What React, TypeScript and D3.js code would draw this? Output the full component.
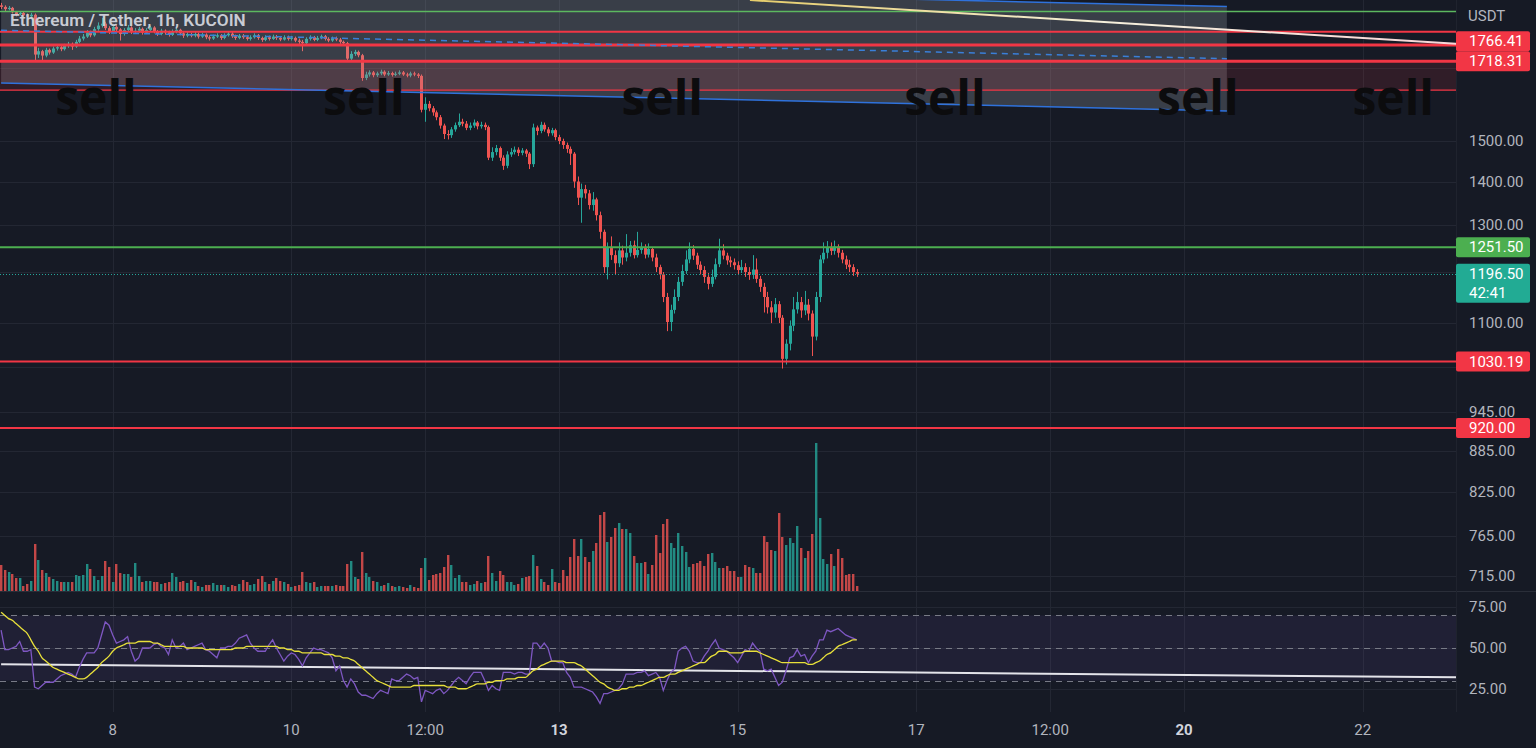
import React from "react";
import * as d3 from "d3";

// ---------------- data ----------------
const firstCandleUTC = Date.UTC(2022, 5, 6, 18); // ETH/USDT 1h, first visible candle
const firstOpen = 1890;

const closes = [
  1885, 1878, 1882, 1868, 1862, 1866, 1858, 1855, 1860,
  1738,
  1748, 1735, 1752, 1744,
  1756, 1760, 1754, 1764, 1770, 1762, 1776, 1786, 1792,
  1805, 1796, 1815, 1826, 1832, 1818, 1808, 1822, 1814, 1800, 1812, 1820, 1806,
  1810, 1816, 1804, 1812, 1820, 1808, 1800, 1810, 1805, 1797, 1808, 1813, 1802, 1795, 1800,
  1795, 1800, 1792, 1798, 1790, 1786, 1792, 1796, 1788, 1796, 1801, 1793, 1788, 1795, 1790,
  1785, 1790, 1796, 1788, 1782, 1790, 1785, 1792, 1788, 1783, 1790, 1785, 1788, 1780, 1776,
  1772,
  1785, 1790, 1782, 1788, 1793, 1785, 1780, 1787, 1783, 1776, 1772,
  1726,
  1740, 1746, 1736,
  1670,
  1680, 1686, 1678, 1683, 1688, 1680, 1684, 1679, 1682, 1686, 1680, 1677, 1683, 1680, 1676,
  1582,
  1598, 1586, 1575,
  1562, 1540, 1518,
  1515, 1530, 1541, 1550,
  1545, 1534, 1540, 1548, 1538, 1542, 1536,
  1458,
  1472, 1482, 1458, 1438, 1466,
  1472, 1478, 1470, 1476, 1468,
  1442,
  1535,
  1526, 1542, 1530, 1520, 1528,
  1510, 1500, 1490, 1480, 1468,
  1400, 1362, 1382,
  1372, 1345, 1358,
  1322, 1285,
  1210,
  1250, 1235, 1218, 1245, 1230,
  1240, 1256, 1235, 1246, 1250, 1236, 1248,
  1230, 1210, 1195,
  1150, 1102,
  1125, 1150, 1180,
  1202, 1226, 1248, 1234, 1215,
  1204, 1190, 1176, 1190,
  1216, 1245, 1234, 1224,
  1220, 1214, 1204, 1210, 1200, 1194, 1205, 1186,
  1170, 1150, 1130,
  1120, 1136, 1110,
  1035,
  1062, 1095, 1126,
  1140, 1124, 1135, 1118,
  1075,
  1150,
  1226,
  1240, 1252, 1244, 1253, 1240,
  1226, 1215, 1210, 1200, 1196.5,
];

const highs = [
  1898, 1890, 1888, 1885, 1872, 1872, 1870, 1864, 1866,
  1864,
  1758, 1752, 1758, 1756,
  1762, 1766, 1764, 1770, 1776, 1774, 1782, 1794, 1800,
  1812, 1810, 1822, 1836, 1850, 1838, 1824, 1830, 1828, 1818, 1818, 1828, 1824,
  1818, 1822, 1820, 1818, 1826, 1824, 1812, 1816, 1814, 1810, 1814, 1820, 1816, 1806, 1806,
  1804, 1806, 1804, 1804, 1802, 1796, 1798, 1802, 1800, 1802, 1808, 1806, 1798, 1800, 1800,
  1795, 1796, 1802, 1800, 1792, 1796, 1795, 1798, 1797, 1794, 1796, 1795, 1794, 1792, 1786,
  1782,
  1790, 1796, 1794, 1794, 1798, 1797, 1790, 1792, 1792, 1788, 1780,
  1776,
  1748, 1752, 1750,
  1740,
  1688, 1692, 1690, 1688, 1694, 1692, 1690, 1688, 1688, 1692, 1690, 1685, 1688, 1688, 1684,
  1680,
  1616, 1606, 1592,
  1580, 1568, 1545,
  1528, 1536, 1548, 1572,
  1558, 1552, 1548, 1556, 1552, 1550, 1548,
  1540,
  1484, 1490, 1486, 1464, 1474,
  1482, 1486, 1484, 1482, 1480,
  1472,
  1545,
  1540, 1550, 1548, 1536, 1534,
  1532, 1516, 1506, 1496, 1486,
  1472, 1412, 1395,
  1392, 1380, 1375,
  1362, 1330,
  1290,
  1262, 1275, 1245, 1262, 1255,
  1280, 1265, 1266, 1285, 1262, 1258, 1260,
  1252, 1238, 1215,
  1200, 1158,
  1135, 1165, 1190,
  1215, 1245, 1262, 1256, 1240,
  1222, 1212, 1198, 1205,
  1228, 1270, 1258, 1240,
  1232, 1228, 1222, 1225, 1218, 1210, 1235, 1228,
  1192, 1178, 1160,
  1142, 1148, 1142,
  1115,
  1070, 1105, 1150,
  1160, 1150, 1162, 1146,
  1124,
  1160,
  1235,
  1262, 1265, 1262, 1266, 1258,
  1246, 1234, 1225, 1216, 1206,
];

const lows = [
  1878, 1872, 1874, 1864, 1855, 1858, 1852, 1848, 1850,
  1722,
  1728, 1722, 1730, 1738,
  1740, 1750, 1748, 1750, 1758, 1752, 1758, 1772, 1780,
  1788, 1790, 1792, 1810, 1820, 1812, 1800, 1804, 1808, 1780, 1795, 1806, 1800,
  1800, 1804, 1798, 1800, 1806, 1802, 1794, 1796, 1798, 1792, 1794, 1802, 1796, 1788, 1790,
  1790, 1790, 1786, 1788, 1784, 1780, 1782, 1788, 1782, 1784, 1792, 1788, 1782, 1784, 1785,
  1780, 1780, 1786, 1782, 1776, 1778, 1780, 1782, 1782, 1778, 1780, 1780, 1780, 1775, 1770,
  1748,
  1768, 1780, 1778, 1778, 1784, 1780, 1775, 1776, 1778, 1770, 1764,
  1720,
  1720, 1734, 1730,
  1662,
  1664, 1674, 1672, 1673, 1678, 1675, 1676, 1674, 1675, 1678, 1676, 1672, 1672, 1675, 1670,
  1575,
  1550, 1578, 1566,
  1554, 1532, 1505,
  1504, 1508, 1524, 1536,
  1538, 1528, 1528, 1534, 1530, 1532, 1528,
  1452,
  1450, 1464, 1450, 1428, 1432,
  1460, 1466, 1462, 1464, 1460,
  1430,
  1435,
  1515, 1520, 1524, 1512, 1514,
  1502, 1492, 1480, 1470, 1440,
  1385, 1345, 1305,
  1360, 1335, 1332,
  1310, 1270,
  1198,
  1185, 1225, 1195, 1210, 1215,
  1222, 1232, 1228, 1230, 1238, 1228, 1230,
  1222, 1200, 1185,
  1140, 1085,
  1085, 1118, 1142,
  1172, 1196, 1218, 1225, 1206,
  1195, 1178, 1165, 1170,
  1185, 1210, 1226, 1215,
  1210, 1205, 1195, 1198, 1190, 1184, 1186, 1178,
  1160, 1120, 1118,
  1100, 1110, 1100,
  1018,
  1025, 1050, 1085,
  1118, 1110, 1115, 1105,
  1040,
  1068,
  1140,
  1218, 1228, 1235, 1236, 1230,
  1218, 1206, 1200, 1192, 1190,
];

// volume (thousand ETH)
const volumes = [
  26, 21, 19, 17, 13, 13, 5, 7, 10, 47,
  31, 21, 18, 14, 12, 10, 9, 9, 9, 9,
  16, 15, 16, 27, 22, 15, 11, 15, 30, 24,
  9, 27, 18, 17, 17, 14, 28, 15, 9, 10,
  10, 9, 9, 7, 8, 9, 18, 14, 9, 10,
  8, 11, 9, 5, 4, 6, 6, 8, 6, 6,
  6, 4, 6, 5, 7, 11, 9, 6, 7, 12,
  15, 9, 7, 10, 13, 10, 9, 7, 4, 5,
  6, 19, 9, 8, 9, 4, 5, 5, 5, 5,
  6, 5, 5, 27, 30, 14, 12, 39, 18, 14,
  10, 9, 5, 6, 8, 5, 4, 5, 4, 3,
  6, 4, 3, 23, 33, 11, 16, 17, 18, 24,
  36,
  26, 13, 16, 9, 9, 6, 7, 10, 8, 9,
  35, 18, 10, 20, 16, 9, 9, 6, 7, 13,
  14, 15, 36, 25, 12, 9, 6, 22, 9, 8,
  21, 15, 34, 52, 35, 52, 34, 29, 40, 48,
  76, 79, 49, 54, 63, 68, 62, 62, 58, 35,
  28, 28, 29, 17, 26, 56, 38, 67, 72, 48,
  43, 58, 45, 39, 24, 27, 28, 30, 25, 37,
  38, 29, 23, 23, 25, 20, 20, 14, 14, 26,
  24, 23, 18, 18, 55, 49, 41, 40, 78, 54,
  46, 53, 48, 65, 43, 33, 40, 57, 148, 73,
  32, 27, 37, 25, 42, 33, 16, 17, 17, 5,
];

const rsiValues = [
  61, 49, 49, 50, 51, 54, 48, 48, 49, 26,
  25, 27, 29, 29, 29, 31, 33, 34, 35, 34,
  32, 38, 43, 47, 47, 47, 50, 58, 66, 64,
  58, 53, 54, 55, 57, 48, 42, 44, 50, 50,
  50, 52, 53, 51, 50, 46, 55, 50, 51, 53,
  49, 50, 51, 52, 53, 49, 48, 46, 44, 50,
  50, 51, 51, 53, 56, 57, 58, 53, 50, 48,
  48, 48, 52, 55, 50, 46, 42, 45, 47, 46,
  43, 39, 44, 47, 50, 49, 49, 48, 47, 44,
  36, 39, 30, 26, 31, 28, 23, 21, 21, 20,
  19, 22, 24, 23, 22, 31, 30, 30, 32, 34,
  33, 31, 32, 17, 24, 23, 22, 24, 25, 22,
  24, 27, 30, 32, 30, 28, 32, 35, 35, 35,
  30, 24, 27, 25, 24, 35, 35, 35, 34, 35,
  35, 34, 34, 53, 53, 50, 53, 50, 42, 42,
  41, 41, 35, 32, 26, 26, 26, 25, 24, 23,
  20, 16, 22, 22, 23, 24, 25, 28, 34, 34,
  34, 35, 35, 36, 33, 34, 35, 32, 24, 30,
  35, 37, 48, 50, 51, 48, 42, 41, 41, 45,
  48, 52, 55, 50, 49, 48, 46, 44, 41, 45,
  49, 48, 53, 50, 48, 37, 36, 37, 32, 27,
  29, 36, 44, 45, 49, 45, 46, 41, 45, 48,
  55, 55, 61, 60, 61, 62, 60, 58, 57, 56,
  55,
];

const rsiMaValues = [
  72, 70, 68, 67, 65, 63, 61, 59, 55, 51,
  48, 44, 42, 40, 38, 37, 36, 35, 34, 33,
  32, 31, 31, 32, 34, 36, 38, 41, 43, 45,
  48, 50, 51, 52, 53, 53, 53, 54, 54, 54,
  54, 53, 53, 52, 51, 51, 51, 51, 51, 51,
  50, 50, 50, 50, 50, 49, 49, 49, 49, 49,
  49, 49, 49, 50, 50, 50, 51, 51, 51, 51,
  51, 51, 51, 51, 51, 50, 50, 49, 49, 48,
  48, 47, 47, 47, 47, 47, 47, 46, 46, 46,
  45, 45, 44, 44, 43, 42, 40, 38, 36, 34,
  32, 30, 29, 28, 27, 26, 26, 26, 26, 26,
  26, 27, 27, 27, 27, 27, 27, 27, 27, 27,
  26, 26, 26, 25, 25, 25, 26, 27, 28, 28,
  28, 29, 29, 30, 30, 30, 31, 31, 31, 32,
  32, 32, 34, 36, 37, 39, 40, 41, 42, 42,
  42, 42, 41, 41, 41, 40, 39, 37, 35, 33,
  31, 29, 28, 26, 25, 24, 24, 25, 25, 26,
  26, 27, 27, 28, 29, 30, 31, 32, 32, 33,
  34, 34, 35, 36, 37, 38, 39, 40, 41, 41,
  43, 45, 46, 48, 48, 48, 47, 47, 47, 47,
  48, 48, 48, 48, 47, 46, 45, 44, 43, 42,
  41, 41, 41, 41, 41, 41, 41, 40, 40, 41,
  42, 44, 46, 47, 49, 51, 52, 53, 54, 55,
  55,
];

const timeTickISO = [
  "2022-06-08T00:00Z", "2022-06-10T00:00Z", "2022-06-11T12:00Z", "2022-06-13T00:00Z",
  "2022-06-15T00:00Z", "2022-06-17T00:00Z", "2022-06-18T12:00Z", "2022-06-20T00:00Z",
  "2022-06-22T00:00Z",
];
const timeTickLabels = ["8", "10", "12:00", "13", "15", "17", "12:00", "20", "22"];
const timeTickBold = [false, false, false, true, false, false, false, true, false];

const priceTicks = [1700, 1500, 1400, 1300, 1200, 1100, 1020, 945, 885, 825, 765, 715];
const rsiTicks = [75, 50, 25];
const rsiGuides = [70, 50, 30];

const levelValues = [1766.41, 1718.31, 1251.5, 1196.5, 1030.19, 920.0];
const levelKinds = ["red", "red", "green", "last", "red", "red"];
const countdownText = "42:41";

// drawings (hour offset from first candle, price)
const topGreenLevel = 1870;
const thinRedLevels = [1807, 1636];
const thickRedLevels = [1766.41, 1718.31];
const redZoneBounds = [1718.31, 1636];
const channelHours = [0, 329.5];
const channelUpperPrices = [1981, 1886];
const channelLowerPrices = [1656, 1579];
const trendHours = [201.3, 391.1];
const trendPrices = [1907, 1770];
const rsiTrendHours = [0, 391.1];
const rsiTrendValues = [40, 32];
const sellHours = [25.5, 97.5, 177.7, 253.7, 321.7, 374.2];
const sellPrice = 1568;

// ---------------- layout ----------------
const W = 1536;
const H = 748;
const PANE_R = 1456;
const MAIN_B = 591;
const RSI_T = 592;
const RSI_B = 712;
const VISIBLE_HOURS = 391.09;
const BG = "#161a25";
const GRID = "#232733";
const UP = "#26a69a";
const DOWN = "#ef5350";
const RED = "#f23645";
const GREEN = "#4caf50";
const AXIS_TEXT = "#b2b5be";
const FONT = "Roboto, 'Liberation Sans', sans-serif";

export default function App() {
  const HOUR = 3600e3;
  const x = d3.scaleLinear().domain([0, VISIBLE_HOURS]).range([1.1, PANE_R]);
  const xt = d3
    .scaleUtc()
    .domain([new Date(firstCandleUTC), new Date(firstCandleUTC + VISIBLE_HOURS * HOUR)])
    .range([1.1, PANE_R]);
  const y = d3.scaleLog().domain([1907.3, 698.1]).range([0, 590]);
  const yv = d3.scaleLinear().domain([0, 148]).range([MAIN_B, 443]);
  const yr = d3.scaleLinear().domain([25, 75]).range([688.75, 607.25]);

  const candles = closes.map((c, i) => {
    const o = i === 0 ? firstOpen : closes[i - 1];
    const h = Math.max(highs[i], o, c);
    const l = Math.min(lows[i], o, c);
    return { i, o, h, l, c, up: c >= o };
  });

  const tickX = timeTickISO.map((s) => xt(new Date(s)));

  const channelPoly = [
    [x(channelHours[0]), y(channelUpperPrices[0])],
    [x(channelHours[1]), y(channelUpperPrices[1])],
    [x(channelHours[1]), y(channelLowerPrices[1])],
    [x(channelHours[0]), y(channelLowerPrices[0])],
  ]
    .map((p) => p.join(","))
    .join(" ");
  const midY0 = (y(channelUpperPrices[0]) + y(channelLowerPrices[0])) / 2;
  const midY1 = (y(channelUpperPrices[1]) + y(channelLowerPrices[1])) / 2;

  const rsiLine = d3
    .line<number>()
    .x((_, i) => x(i))
    .y((v) => yr(v))
    .curve(d3.curveLinear);
  const maLine = d3
    .line<number>()
    .x((_, i) => x(i))
    .y((v) => yr(v))
    .curve(d3.curveMonotoneX);

  const lvlY = levelValues.map((v) => y(v));
  // keep the two stacked labels at the top from overlapping
  lvlY[0] = Math.min(lvlY[0], lvlY[1] - 20);
  const lastIdx = levelKinds.indexOf("last");

  const boxColor = (k: string) => (k === "red" ? RED : k === "green" ? GREEN : "#22ab94");

  // tick labels partly hidden behind a level label are clipped to the free area
  const hiddenBand = (p: number) =>
    levelValues.some((v, k) => Math.abs(y(p) - lvlY[k]) < 12);

  return (
    <svg
      width={W}
      height={H}
      style={{ position: "absolute", left: 0, top: 0, display: "block" }}
      xmlns="http://www.w3.org/2000/svg"
    >
      <defs>
        <clipPath id="mainClip">
          <rect x={0} y={0} width={PANE_R} height={MAIN_B} />
        </clipPath>
        <clipPath id="rsiClip">
          <rect x={0} y={RSI_T} width={PANE_R} height={RSI_B - RSI_T} />
        </clipPath>
        <linearGradient id="trendGrad" gradientUnits="userSpaceOnUse" x1={x(trendHours[0])} y1={0} x2={PANE_R} y2={0}>
          <stop offset="0" stopColor="#e6cd6a" />
          <stop offset="0.5" stopColor="#f6f0dc" />
          <stop offset="1" stopColor="#f6d6d8" />
        </linearGradient>
      </defs>

      <rect x={0} y={0} width={W} height={H} fill={BG} />

      {/* grid */}
      <g>
        {priceTicks.map((p) => (
          <line key={"hg" + p} x1={0} x2={PANE_R} y1={Math.round(y(p)) + 0.5} y2={Math.round(y(p)) + 0.5} stroke={GRID} strokeWidth={1} />
        ))}
        {rsiTicks.map((v) => (
          <line key={"rg" + v} x1={0} x2={PANE_R} y1={Math.round(yr(v)) + 0.5} y2={Math.round(yr(v)) + 0.5} stroke={GRID} strokeWidth={1} />
        ))}
        {tickX.map((tx, k) => (
          <line key={"vg" + k} x1={Math.round(tx) + 0.5} x2={Math.round(tx) + 0.5} y1={0} y2={RSI_B} stroke={GRID} strokeWidth={1} />
        ))}
      </g>

      {/* main pane */}
      <g clipPath="url(#mainClip)">
        {/* volume */}
        {candles.map((d) => {
          const cx = Math.round(x(d.i));
          const top = yv(volumes[d.i]);
          return (
            <rect
              key={"v" + d.i}
              x={cx - 1}
              y={top}
              width={2.4}
              height={Math.max(1, MAIN_B - top)}
              fill={d.up ? UP : DOWN}
              opacity={0.8}
            />
          );
        })}

        {/* candles */}
        {candles.map((d) => {
          const cx = Math.round(x(d.i));
          const yTop = y(Math.max(d.o, d.c));
          const yBot = y(Math.min(d.o, d.c));
          const col = d.up ? UP : DOWN;
          return (
            <g key={"c" + d.i}>
              <line x1={cx + 0.5} x2={cx + 0.5} y1={y(d.h)} y2={y(d.l)} stroke={col} strokeWidth={1} />
              <rect x={cx - 1} y={yTop} width={3} height={Math.max(1, yBot - yTop)} fill={col} />
            </g>
          );
        })}

        {/* channel and zones */}
        <polygon points={channelPoly} fill="rgba(178,181,190,0.23)" />
        <rect
          x={0}
          y={y(redZoneBounds[0])}
          width={PANE_R}
          height={y(redZoneBounds[1]) - y(redZoneBounds[0])}
          fill="rgba(242,54,69,0.12)"
        />

        {/* horizontal levels */}
        <line x1={0} x2={PANE_R} y1={y(topGreenLevel)} y2={y(topGreenLevel)} stroke="#5cb85f" strokeWidth={1.5} />
        {thinRedLevels.map((p, k) => (
          <line key={"tr" + k} x1={0} x2={PANE_R} y1={y(p)} y2={y(p)} stroke={RED} strokeWidth={k === 0 ? 2 : 1.2} />
        ))}
        {thickRedLevels.map((p) => (
          <line key={"th" + p} x1={0} x2={PANE_R} y1={y(p)} y2={y(p)} stroke={RED} strokeWidth={3} />
        ))}
        <line x1={0} x2={PANE_R} y1={y(1251.5)} y2={y(1251.5)} stroke={GREEN} strokeWidth={2} />
        <line x1={0} x2={PANE_R} y1={y(1030.19)} y2={y(1030.19)} stroke={RED} strokeWidth={2} />
        <line x1={0} x2={PANE_R} y1={y(920)} y2={y(920)} stroke={RED} strokeWidth={2} />

        {/* channel lines */}
        <line
          x1={x(channelHours[0])}
          y1={y(channelUpperPrices[0])}
          x2={x(channelHours[1])}
          y2={y(channelUpperPrices[1])}
          stroke="#2f72dc"
          strokeWidth={1.5}
        />
        <line
          x1={x(channelHours[0])}
          y1={y(channelLowerPrices[0])}
          x2={x(channelHours[1])}
          y2={y(channelLowerPrices[1])}
          stroke="#2f72dc"
          strokeWidth={1.5}
        />
        <line
          x1={x(channelHours[0])}
          y1={midY0}
          x2={x(channelHours[1])}
          y2={midY1}
          stroke="#3a7fd8"
          strokeWidth={1.5}
          strokeDasharray="6 5"
        />

        {/* trend line */}
        <line
          x1={x(trendHours[0])}
          y1={y(trendPrices[0])}
          x2={x(trendHours[1])}
          y2={y(trendPrices[1])}
          stroke="url(#trendGrad)"
          strokeWidth={2}
        />

        {/* last price line */}
        <line
          x1={0}
          x2={PANE_R}
          y1={Math.round(y(1196.5)) + 0.5}
          y2={Math.round(y(1196.5)) + 0.5}
          stroke="#26a69a"
          strokeWidth={1}
          strokeDasharray="1 2"
        />

        {/* sell labels */}
        {sellHours.map((h, k) => (
          <text
            key={"s" + k}
            x={x(h)}
            y={y(sellPrice)}
            textAnchor="middle"
            fontFamily="'Open Sans', 'DejaVu Sans', sans-serif"
            fontWeight={700}
            fontSize={48}
            fill="#0c0c0e"
          >
            sell
          </text>
        ))}
      </g>

      {/* title */}
      <text x={10} y={26} fontFamily={FONT} fontWeight={600} fontSize={17.2} fill="#c9ccd4">
        Ethereum / Tether, 1h, KUCOIN
      </text>

      {/* pane separators */}
      <line x1={0} x2={W} y1={MAIN_B + 0.5} y2={MAIN_B + 0.5} stroke="#2a2e39" strokeWidth={1} />
      <line x1={PANE_R + 0.5} x2={PANE_R + 0.5} y1={0} y2={RSI_B} stroke="#1f232e" strokeWidth={1} />

      {/* RSI pane */}
      <g clipPath="url(#rsiClip)">
        <rect x={0} y={yr(70)} width={PANE_R} height={yr(30) - yr(70)} fill="rgba(126,87,194,0.1)" />
        {rsiGuides.map((v) => (
          <line
            key={"rd" + v}
            x1={0}
            x2={PANE_R}
            y1={Math.round(yr(v)) + 0.5}
            y2={Math.round(yr(v)) + 0.5}
            stroke="#787b86"
            strokeWidth={1}
            strokeDasharray="6 5"
          />
        ))}
        <line
          x1={x(rsiTrendHours[0])}
          y1={yr(rsiTrendValues[0])}
          x2={x(rsiTrendHours[1])}
          y2={yr(rsiTrendValues[1])}
          stroke="#e4e4ea"
          strokeWidth={2}
        />
        <path d={rsiLine(rsiValues) || ""} fill="none" stroke="#7e57c2" strokeWidth={1.3} />
        <path d={maLine(rsiMaValues) || ""} fill="none" stroke="#e8e03a" strokeWidth={1.3} />
      </g>

      {/* price axis */}
      <g fontFamily={FONT} fontSize={15} fill={AXIS_TEXT}>
        <text x={1468} y={21}>USDT</text>
        {priceTicks
          .filter((p) => !hiddenBand(p))
          .map((p) => (
            <text key={"pt" + p} x={1469} y={y(p) + 5}>
              {p.toFixed(2)}
            </text>
          ))}
        {rsiTicks.map((v) => (
          <text key={"rt" + v} x={1469} y={yr(v) + 5}>
            {v.toFixed(2)}
          </text>
        ))}
      </g>

      {/* level labels */}
      <g fontFamily={FONT} fontSize={15} fill="#ffffff">
        {levelValues.map((v, k) => {
          const cy = lvlY[k];
          const isLast = k === lastIdx;
          return (
            <g key={"lv" + k}>
              <rect
                x={PANE_R}
                y={cy - 10}
                width={74}
                height={isLast ? 39 : 20}
                rx={2}
                fill={boxColor(levelKinds[k])}
              />
              <text x={1469} y={cy + 5}>
                {v.toFixed(2)}
              </text>
              {isLast && (
                <text x={1469} y={cy + 24}>
                  {countdownText}
                </text>
              )}
            </g>
          );
        })}
      </g>

      {/* time axis */}
      <g fontFamily={FONT} fontSize={15}>
        {tickX.map((tx, k) => (
          <text
            key={"tt" + k}
            x={tx}
            y={735}
            textAnchor="middle"
            fill={timeTickBold[k] ? "#d1d4dc" : AXIS_TEXT}
            fontWeight={timeTickBold[k] ? 700 : 400}
          >
            {timeTickLabels[k]}
          </text>
        ))}
      </g>
    </svg>
  );
}
